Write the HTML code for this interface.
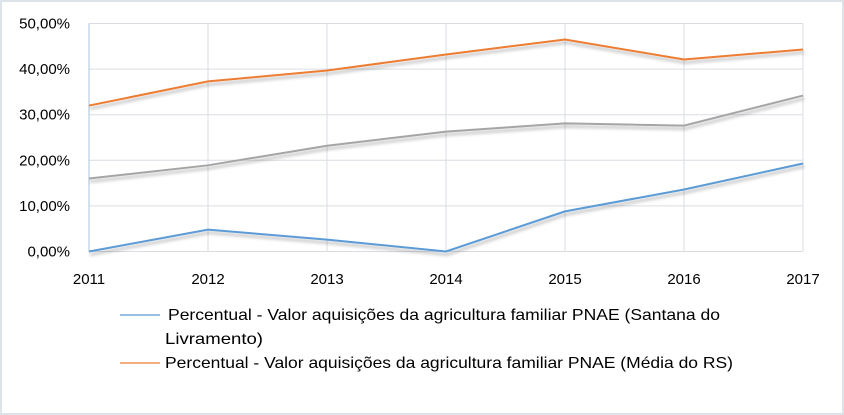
<!DOCTYPE html>
<html><head><meta charset="utf-8"><style>
html,body{margin:0;padding:0;background:#fff;}
svg{display:block;font-family:"Liberation Sans",sans-serif;}
</style></head><body>
<svg id="chart" width="844" height="415" viewBox="0 0 844 415">
<defs><filter id="sh" x="-5%" y="-20%" width="110%" height="160%"><feDropShadow dx="1" dy="3" stdDeviation="1.5" flood-color="#000" flood-opacity="0.3"/></filter></defs>
<rect x="1" y="1" width="842" height="413" fill="#fff" stroke="#dde3e8" stroke-width="2"/>
<g id="grid"></g>
<g id="yticks"></g>
<g id="xticks"></g>
<g id="series"></g>
<g>
 <line x1="120" y1="315" x2="160" y2="315" stroke="#5b9bd5" stroke-width="1.3"/>
 <text x="168" y="320" font-size="16" textLength="552" lengthAdjust="spacingAndGlyphs" fill="#000">Percentual - Valor aquisições da agricultura familiar PNAE (Santana do</text>
 <text x="165" y="344" font-size="16" textLength="98" lengthAdjust="spacingAndGlyphs" fill="#000">Livramento)</text>
 <line x1="120" y1="363" x2="160" y2="363" stroke="#ed7d31" stroke-width="1.3"/>
 <text x="165" y="368" font-size="16" textLength="568" lengthAdjust="spacingAndGlyphs" fill="#000">Percentual - Valor aquisições da agricultura familiar PNAE (Média do RS)</text>
</g>
</svg>
<script>
const years = ["2011","2012","2013","2014","2015","2016","2017"];
const santana = [0, 4.8, 2.6, 0, 8.8, 13.6, 19.3];
const mediaRS = [32.0, 37.3, 39.7, 43.2, 46.5, 42.1, 44.3];
const grayLine = [16.0, 18.9, 23.2, 26.3, 28.1, 27.6, 34.2];
const yTicks = [0,10,20,30,40,50];
const yTickLabels = ["0,00%","10,00%","20,00%","30,00%","40,00%","50,00%"];

const NS="http://www.w3.org/2000/svg";
const X0=89,X1=803,Y0=251.5,Y1=23.5;
const xs=i=>X0+(X1-X0)*i/(years.length-1);
const ys=v=>Y0-(Y0-Y1)*v/50;
function mk(t,a,p){const e=document.createElementNS(NS,t);for(const k in a)e.setAttribute(k,a[k]);p.appendChild(e);return e;}
const grid=document.getElementById('grid');
yTicks.forEach((v,i)=>{
 const l=mk('line',{x1:X0,x2:X1,y1:ys(v),y2:ys(v),stroke:'#d9dde3','stroke-width':1},grid);
 
 
 const t=mk('text',{x:70,y:ys(v)+5,'font-size':15,'text-anchor':'end',fill:'#000'},document.getElementById('yticks'));
 t.textContent=yTickLabels[i];
 
 
});
years.forEach((y,i)=>{
 const l=mk('line',{x1:xs(i),x2:xs(i),y1:Y1,y2:Y0,stroke:i==0?'#a9c4e0':'#d9dde3','stroke-width':1},grid);
 
 
 const t=mk('text',{x:xs(i),y:284,'font-size':15,'text-anchor':'middle',fill:'#000'},document.getElementById('xticks'));
 t.textContent=y;
 
 
});
const ser=document.getElementById('series');
[[mediaRS,'#ed7d31','line-media-rs'],[grayLine,'#a5a5a5','line-gray-series'],[santana,'#5b9bd5','line-santana']].forEach(([d,c,n])=>{
 const p=mk('polyline',{points:d.map((v,i)=>xs(i)+','+ys(v)).join(' '),fill:'none',stroke:c,'stroke-width':2,filter:'url(#sh)'},ser);
 
 
});
</script>
</body></html>
